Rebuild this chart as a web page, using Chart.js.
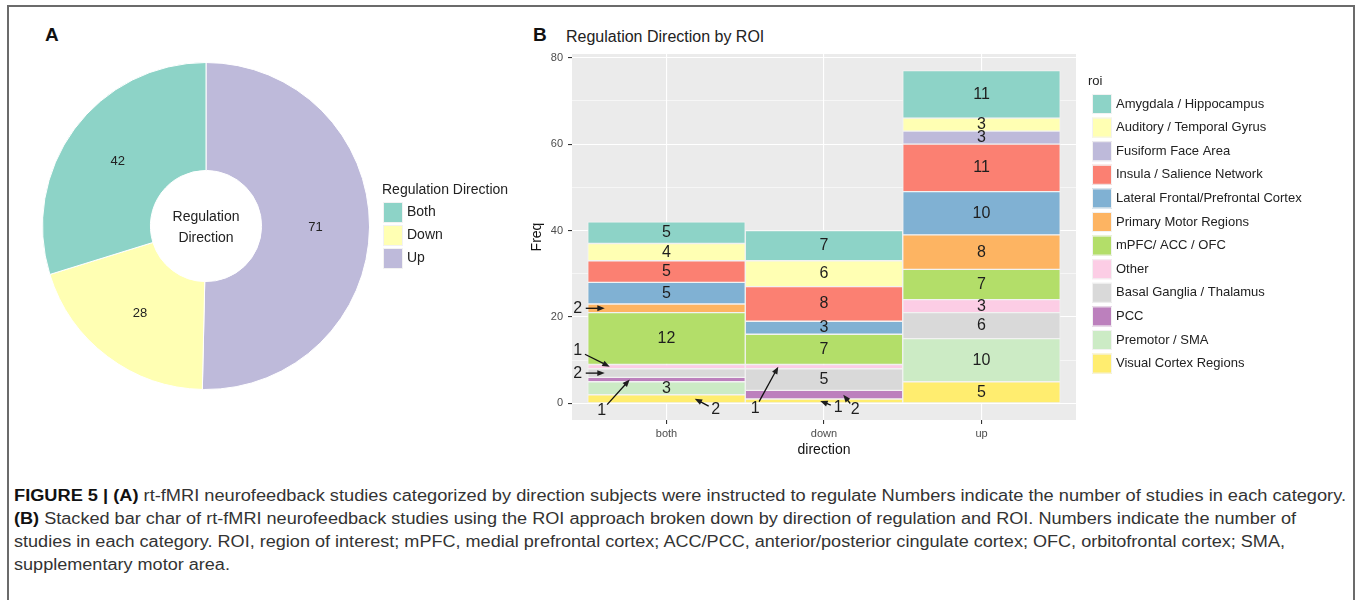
<!DOCTYPE html>
<html>
<head>
<meta charset="utf-8">
<title>Figure 5</title>
<script src="https://cdn.jsdelivr.net/npm/chart.js@4.4.1/dist/chart.umd.min.js"></script>
<style>
	body { margin: 0; background: #fff; font-family: "Liberation Sans", Arial, sans-serif; }
	#page { position: relative; width: 1357px; height: 600px; overflow: hidden; }
	#frame { position: absolute; left: 7px; top: 5px; width: 1344px; height: 620px; border: 2px solid #6b6b6b; }
	.panel { position: absolute; font-weight: bold; font-size: 19px; line-height: 20px; color: #111; }
	#titleB { position: absolute; left: 566px; top: 27px; font-size: 16px; line-height: 20px; color: #222; }
	canvas { position: absolute; }
	.cap { position: absolute; left: 14px; font-size: 16px; line-height: 20px; color: #333; white-space: nowrap; transform-origin: 0 0; }
	.cap b { color: #111; }
</style>
</head>
<body>
<div id="page">
	<div id="frame"></div>
	<div class="panel" style="left:45px;top:25px">A</div>
	<div class="panel" style="left:533px;top:25px">B</div>
	<div id="titleB">Regulation Direction by ROI</div>
	<canvas id="pieChart" width="530" height="328" style="left:31px;top:62px"></canvas>
	<canvas id="barChart" width="813" height="418" style="left:525px;top:47px"></canvas>
	<div class="cap" id="cap1" style="top:486px"><b>FIGURE 5 | (A)</b> rt-fMRI neurofeedback studies categorized by direction subjects were instructed to regulate Numbers indicate the number of studies in each category.</div>
	<div class="cap" id="cap2" style="top:509px"><b>(B)</b> Stacked bar char of rt-fMRI neurofeedback studies using the ROI approach broken down by direction of regulation and ROI. Numbers indicate the number of</div>
	<div class="cap" id="cap3" style="top:532px">studies in each category. ROI, region of interest; mPFC, medial prefrontal cortex; ACC/PCC, anterior/posterior cingulate cortex; OFC, orbitofrontal cortex; SMA,</div>
	<div class="cap" id="cap4" style="top:555px">supplementary motor area.</div>
</div>
<script>
// panel A
var pieLabels = ["Up", "Down", "Both"];
var pieValues = [71, 28, 42];
var pieColors = ["#BEBADA", "#FFFFB3", "#8DD3C7"];

// panel B, stacks listed bottom to top
var directions = ["both", "down", "up"];
var roiNames = [
	"Visual Cortex Regions",
	"Premotor / SMA",
	"PCC",
	"Basal Ganglia / Thalamus",
	"Other",
	"mPFC/ ACC / OFC",
	"Primary Motor Regions",
	"Lateral Frontal/Prefrontal Cortex",
	"Insula / Salience Network",
	"Fusiform Face Area",
	"Auditory / Temporal Gyrus",
	"Amygdala / Hippocampus"
];
var visualCortex = [2, 1, 5];
var premotorSma = [3, 0, 10];
var pcc = [1, 2, 0];
var basalGanglia = [2, 5, 6];
var other = [1, 1, 3];
var mpfcAccOfc = [12, 7, 7];
var primaryMotor = [2, 0, 8];
var lateralFrontal = [5, 3, 10];
var insula = [5, 8, 11];
var fusiform = [0, 0, 3];
var auditory = [4, 6, 3];
var amygdala = [5, 7, 11];
var roiValues = [visualCortex, premotorSma, pcc, basalGanglia, other, mpfcAccOfc,
	primaryMotor, lateralFrontal, insula, fusiform, auditory, amygdala];
var roiColors = ["#FFED6F", "#CCEBC5", "#BC80BD", "#D9D9D9", "#FCCDE5", "#B3DE69",
	"#FDB462", "#80B1D3", "#FB8072", "#BEBADA", "#FFFFB3", "#8DD3C7"];
var yTicks = [0, 20, 40, 60, 80];
var yMinorTicks = [10, 30, 50, 70];

// small segments labelled outside with an arrow (offsets in px)
var arrowNotes = [
	{ bar: 0, roi: "Primary Motor Regions", tipDx: 17, dx: -27, dy: 0 },
	{ bar: 0, roi: "Other", tipDx: 22, dx: -32, dy: -16 },
	{ bar: 0, roi: "Basal Ganglia / Thalamus", tipDx: 17, dx: -27, dy: 0 },
	{ bar: 0, roi: "PCC", tipDx: 42, dx: -28, dy: 31 },
	{ bar: 0, roi: "Visual Cortex Regions", tipDx: 107, dx: 21, dy: 11 },
	{ bar: 1, roi: "Other", tipDx: 33, dx: -23, dy: 42 },
	{ bar: 1, roi: "Visual Cortex Regions", tipDx: 75, dx: 18, dy: 7 },
	{ bar: 1, roi: "PCC", tipDx: 98, dx: 12, dy: 15 }
];

var FONT = "'Liberation Sans', Arial, sans-serif";

// ggplot-like legend to the right of the plot area
var sideLegend = {
	id: "sideLegend",
	afterDraw: function (chart, args, opts) {
		var ctx = chart.ctx;
		var items = [];
		if (chart.config.type === "doughnut") {
			chart.data.labels.forEach(function (l, i) {
				items.push({ text: l, color: chart.data.datasets[0].backgroundColor[i] });
			});
		} else {
			chart.data.datasets.forEach(function (ds) {
				items.push({ text: ds.label, color: ds.backgroundColor });
			});
		}
		items.reverse();
		var x = chart.chartArea.right + opts.dx;
		ctx.save();
		ctx.textAlign = "left";
		ctx.textBaseline = "middle";
		ctx.fillStyle = "#222";
		ctx.font = opts.titleSize + "px " + FONT;
		ctx.fillText(opts.title, x + opts.titleDx, opts.titleY);
		ctx.font = opts.size + "px " + FONT;
		items.forEach(function (it, i) {
			var top = opts.firstTop + i * opts.pitch;
			ctx.fillStyle = it.color;
			ctx.fillRect(x, top, opts.boxW, opts.boxH);
			ctx.strokeStyle = "#F2F2F2";
			ctx.lineWidth = 1;
			ctx.strokeRect(x + 0.5, top + 0.5, opts.boxW - 1, opts.boxH - 1);
			ctx.fillStyle = "#222";
			ctx.fillText(it.text, x + opts.boxW + opts.gap, top + opts.boxH / 2);
		});
		ctx.restore();
	}
};

var pieText = {
	id: "pieText",
	afterDatasetsDraw: function (chart) {
		var ctx = chart.ctx;
		var meta = chart.getDatasetMeta(0);
		ctx.save();
		ctx.fillStyle = "#222";
		ctx.textAlign = "center";
		ctx.textBaseline = "middle";
		ctx.font = "13px " + FONT;
		meta.data.forEach(function (arc, i) {
			var p = arc.tooltipPosition();
			ctx.fillText(String(pieValues[i]), p.x, p.y);
		});
		var a = chart.chartArea;
		var cx = (a.left + a.right) / 2;
		var cy = (a.top + a.bottom) / 2;
		ctx.font = "14px " + FONT;
		ctx.fillText("Regulation", cx, cy - 9);
		ctx.fillText("Direction", cx, cy + 12);
		ctx.restore();
	}
};

new Chart(document.getElementById("pieChart").getContext("2d"), {
	type: "doughnut",
	data: {
		labels: pieLabels,
		datasets: [{
			data: pieValues,
			backgroundColor: pieColors,
			borderColor: "#ffffff",
			borderWidth: 1
		}]
	},
	options: {
		responsive: false,
		animation: false,
		cutout: "34%",
		layout: { padding: { right: 180 } },
		plugins: {
			tooltip: { enabled: false },
			legend: { display: false },
			sideLegend: {
				dx: 2, title: "Regulation Direction", titleSize: 14, titleDx: -1, titleY: 128,
				size: 14, firstTop: 140, pitch: 23, boxW: 20, boxH: 21, gap: 4
			}
		}
	},
	plugins: [pieText, sideLegend]
});

var plotBackground = {
	id: "plotBackground",
	beforeDraw: function (chart) {
		var a = chart.chartArea;
		var ctx = chart.ctx;
		ctx.save();
		ctx.fillStyle = "#EBEBEB";
		ctx.fillRect(a.left, a.top, a.right - a.left, a.bottom - a.top);
		ctx.restore();
	}
};

function drawArrow(ctx, x0, y0, x1, y1) {
	var ang = Math.atan2(y1 - y0, x1 - x0);
	var head = 8;
	ctx.beginPath();
	ctx.moveTo(x0, y0);
	ctx.lineTo(x1 - Math.cos(ang) * head * 0.7, y1 - Math.sin(ang) * head * 0.7);
	ctx.stroke();
	ctx.beginPath();
	ctx.moveTo(x1, y1);
	ctx.lineTo(x1 - head * Math.cos(ang - 0.38), y1 - head * Math.sin(ang - 0.38));
	ctx.lineTo(x1 - head * Math.cos(ang + 0.38), y1 - head * Math.sin(ang + 0.38));
	ctx.closePath();
	ctx.fill();
}

var segmentLabels = {
	id: "segmentLabels",
	afterDatasetsDraw: function (chart) {
		var ctx = chart.ctx;
		ctx.save();
		ctx.fillStyle = "#1e1e1e";
		ctx.strokeStyle = "#111";
		ctx.lineWidth = 1.3;
		ctx.textAlign = "center";
		ctx.textBaseline = "middle";
		ctx.font = "16px " + FONT;
		chart.data.datasets.forEach(function (ds, k) {
			var meta = chart.getDatasetMeta(k);
			meta.data.forEach(function (bar, i) {
				var v = roiValues[k][i];
				if (v >= 3) {
					var p = bar.getProps(["x", "y", "base"], true);
					ctx.fillText(String(v), p.x, (p.y + p.base) / 2);
				}
			});
		});
		arrowNotes.forEach(function (n) {
			var k = roiNames.indexOf(n.roi);
			var p = chart.getDatasetMeta(k).data[n.bar].getProps(["x", "y", "base", "width"], true);
			var tx = p.x - p.width / 2 + n.tipDx;
			var ty = (p.y + p.base) / 2;
			var lx = tx + n.dx;
			var ly = ty + n.dy;
			var len = Math.sqrt(n.dx * n.dx + n.dy * n.dy);
			var gap = 8;
			ctx.fillText(String(roiValues[k][n.bar]), lx, ly);
			drawArrow(ctx, lx - n.dx / len * gap, ly - n.dy / len * gap, tx, ty);
		});
		ctx.restore();
	}
};

function isMajor(c) {
	return c.tick && yTicks.indexOf(c.tick.value) >= 0;
}

new Chart(document.getElementById("barChart").getContext("2d"), {
	type: "bar",
	data: {
		datasets: roiNames.map(function (name, k) {
			return {
				label: name,
				data: roiValues[k].map(function (v, i) {
					return { x: i + 1, y: v };
				}),
				backgroundColor: roiColors[k],
				borderColor: "#F2F2F2",
				borderWidth: 1,
				borderSkipped: false,
				barPercentage: 1,
				categoryPercentage: 1
			};
		})
	},
	options: {
		responsive: false,
		animation: false,
		layout: { padding: { top: 7, right: 262, bottom: 0, left: 0 } },
		plugins: {
			tooltip: { enabled: false },
			legend: { display: false },
			sideLegend: {
				dx: 16, title: "roi", titleSize: 13, titleDx: -4, titleY: 34,
				size: 13, firstTop: 47, pitch: 23.6, boxW: 20, boxH: 20, gap: 4
			}
		},
		scales: {
			x: {
				type: "linear",
				stacked: true,
				offset: false,
				min: 0.4,
				max: 3.6,
				afterBuildTicks: function (scale) {
					scale.ticks = directions.map(function (d, i) {
						return { value: i + 1 };
					});
				},
				afterFit: function (scale) {
					scale.height = 45;
					scale.paddingLeft = 0;
					scale.paddingRight = 0;
				},
				ticks: {
					callback: function (v) {
						return directions[v - 1];
					},
					color: "#4D4D4D",
					font: { size: 11 },
					padding: 3,
					autoSkip: false,
					maxRotation: 0
				},
				grid: { offset: false, color: "#FFFFFF", lineWidth: 1.1, tickColor: "#333333", tickLength: 4 },
				border: { display: false },
				title: {
					display: true,
					text: "direction",
					color: "#111",
					font: { size: 14 },
					padding: { top: 0, bottom: 6.6 }
				}
			},
			y: {
				stacked: true,
				min: -3.85,
				max: 80.85,
				afterBuildTicks: function (scale) {
					scale.ticks = yTicks.concat(yMinorTicks).sort(function (a, b) {
						return a - b;
					}).map(function (v) {
						return { value: v };
					});
				},
				afterFit: function (scale) {
					scale.width = 47;
					scale.paddingTop = 0;
					scale.paddingBottom = 0;
				},
				ticks: {
					callback: function (v) {
						return yTicks.indexOf(v) >= 0 ? String(v) : "";
					},
					color: "#4D4D4D",
					font: { size: 11 },
					padding: 5,
					autoSkip: false
				},
				grid: {
					color: "#FFFFFF",
					lineWidth: function (c) {
						return isMajor(c) ? 1.1 : 0.55;
					},
					tickColor: function (c) {
						return isMajor(c) ? "#333333" : "rgba(0,0,0,0)";
					},
					tickLength: 4
				},
				border: { display: false },
				title: {
					display: true,
					text: "Freq",
					color: "#111",
					font: { size: 14 },
					padding: { top: 3.6, bottom: 0 }
				}
			}
		}
	},
	plugins: [plotBackground, segmentLabels, sideLegend]
});

// caption lines stretched to the measured line lengths
var capTargets = [1332, 1282, 1271];
var lastScale = 1;
["cap1", "cap2", "cap3", "cap4"].forEach(function (id, i) {
	var el = document.getElementById(id);
	var s = i < capTargets.length ? capTargets[i] / el.getBoundingClientRect().width : lastScale;
	el.style.transform = "scaleX(" + s + ")";
	lastScale = s;
});
</script>
</body>
</html>
